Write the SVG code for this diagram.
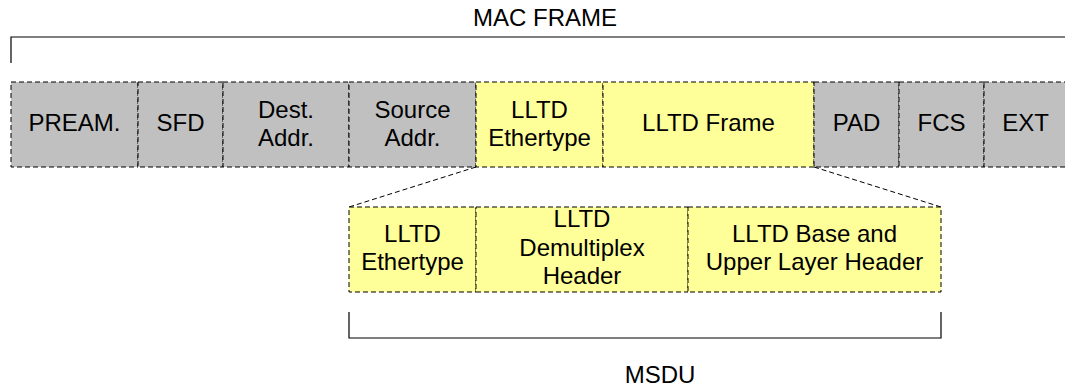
<svg xmlns="http://www.w3.org/2000/svg" width="1065" height="390" viewBox="0 0 1065 390">
  <style>
    .field { stroke: #000; stroke-width: 1; stroke-dasharray: 5 3; }
    .gray { fill: #C0C0C0; }
    .yellow { fill: #FFFF99; }
    .lbl { font-family: "Liberation Sans", Arial, sans-serif; font-size: 24px; fill: #000; text-anchor: middle; }
    .bracket { fill: none; stroke: #000; stroke-width: 1.2; }
    .zoom { stroke: #000; stroke-width: 1; stroke-dasharray: 5 3; fill: none; }
  </style>

  <!-- MAC frame bracket and title -->
  <g id="mac-frame-label">
    <path class="bracket" d="M11,63 V37 H1066"/>
    <text class="lbl" x="545" y="26">MAC FRAME</text>
  </g>

  <!-- Top row: MAC frame fields -->
  <g id="preamble">
    <rect class="field gray" x="11" y="82" width="127" height="85"/>
    <text class="lbl" x="74.5" y="131">PREAM.</text>
  </g>
  <g id="sfd">
    <rect class="field gray" x="138" y="82" width="85" height="85"/>
    <text class="lbl" x="180.5" y="131">SFD</text>
  </g>
  <g id="dest-addr">
    <rect class="field gray" x="223" y="82" width="126" height="85"/>
    <text class="lbl" x="286" y="118">Dest.</text>
    <text class="lbl" x="286" y="146">Addr.</text>
  </g>
  <g id="source-addr">
    <rect class="field gray" x="349" y="82" width="127" height="85"/>
    <text class="lbl" x="412.5" y="118">Source</text>
    <text class="lbl" x="412.5" y="146">Addr.</text>
  </g>
  <g id="lltd-ethertype-top">
    <rect class="field yellow" x="476" y="82" width="127" height="85"/>
    <text class="lbl" x="539.5" y="118">LLTD</text>
    <text class="lbl" x="539.5" y="146">Ethertype</text>
  </g>
  <g id="lltd-frame">
    <rect class="field yellow" x="603" y="82" width="211" height="85"/>
    <text class="lbl" x="708.5" y="131">LLTD Frame</text>
  </g>
  <g id="pad">
    <rect class="field gray" x="814" y="82" width="85" height="85"/>
    <text class="lbl" x="856.5" y="131">PAD</text>
  </g>
  <g id="fcs">
    <rect class="field gray" x="899" y="82" width="85" height="85"/>
    <text class="lbl" x="941.5" y="131">FCS</text>
  </g>
  <g id="ext">
    <rect class="field gray" x="984" y="82" width="90" height="85"/>
    <text class="lbl" x="1025.5" y="131">EXT</text>
  </g>

  <!-- Expansion guide lines -->
  <g id="connectors">
    <line class="zoom" x1="476" y1="167" x2="349" y2="207"/>
    <line class="zoom" x1="814" y1="167" x2="941" y2="207"/>
  </g>

  <!-- Bottom row: MSDU breakdown -->
  <g id="lltd-ethertype-bottom">
    <rect class="field yellow" x="349" y="207" width="127" height="85"/>
    <text class="lbl" x="412.5" y="242">LLTD</text>
    <text class="lbl" x="412.5" y="270">Ethertype</text>
  </g>
  <g id="lltd-demux-header">
    <rect class="field yellow" x="476" y="207" width="212" height="85"/>
    <text class="lbl" x="582" y="227">LLTD</text>
    <text class="lbl" x="582" y="255.5">Demultiplex</text>
    <text class="lbl" x="582" y="284">Header</text>
  </g>
  <g id="lltd-base-header">
    <rect class="field yellow" x="688" y="207" width="253" height="85"/>
    <text class="lbl" x="814.5" y="242">LLTD Base and</text>
    <text class="lbl" x="814.5" y="270">Upper Layer Header</text>
  </g>

  <!-- MSDU bracket and title -->
  <g id="msdu-label">
    <path class="bracket" d="M349,312 V338 H941 V312"/>
    <text class="lbl" x="660" y="383">MSDU</text>
  </g>
</svg>
